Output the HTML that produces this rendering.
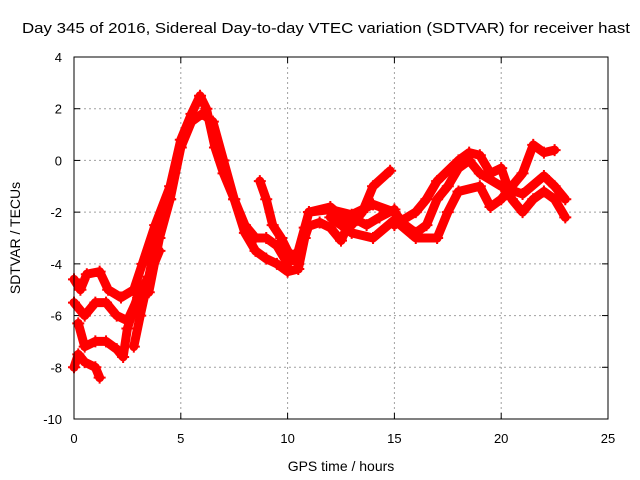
<!DOCTYPE html>
<html><head><meta charset="utf-8"><style>
body{margin:0;background:#fff;}
svg{display:block;font-family:"Liberation Sans",sans-serif;}
</style></head><body>
<svg id="chart" width="640" height="480" viewBox="0 0 640 480">
<text x="22" y="33" font-size="15" textLength="608" lengthAdjust="spacingAndGlyphs">Day 345 of 2016, Sidereal Day-to-day VTEC variation (SDTVAR) for receiver hast</text>
<text transform="translate(20,238) rotate(-90)" font-size="14" text-anchor="middle">SDTVAR / TECUs</text>
<text x="341" y="471" font-size="14" text-anchor="middle">GPS time / hours</text>
<g id="grid"></g>
<g id="ticks"></g>
<g id="series"></g>
<rect x="74" y="57" width="534" height="362" fill="none" stroke="#000" stroke-width="1"/>
</svg>
<script>
const xTicks=[0,5,10,15,20,25];
const yTicks=[4,2,0,-2,-4,-6,-8,-10];
const track1=[[0,-4.6],[0.3,-5],[0.6,-4.4],[1.2,-4.3],[1.6,-5],[2.2,-5.3],[2.8,-5],[3.2,-4],[3.8,-2.5],[4.5,-1],[5,0.8],[5.5,1.8],[5.9,2.5],[6.2,2],[6.6,0.5],[7,-0.5],[7.5,-1.5],[8,-2.5],[8.5,-3],[9,-3],[9.5,-3.3],[10,-4],[10.5,-3.5],[11,-2],[12,-1.9],[13,-2.1],[14,-1.7],[15,-2],[15.5,-2.5],[16,-2.8],[16.5,-2.5],[17,-1.5],[17.5,-1],[18,-0.3],[18.5,0],[19,-0.5],[20,-1],[21,-1.3],[22,-0.6],[22.5,-1],[23,-1.5]];
const track2=[[0,-5.5],[0.5,-6],[1,-5.5],[1.5,-5.5],[2,-6],[2.5,-6.2],[3,-5.3],[3.5,-5.1],[4,-3],[4.5,-1.5],[5,0.5],[5.5,1.5],[6,1.8],[6.5,1.5],[7,0],[7.5,-1.5],[8,-2.8],[8.5,-3.5],[9,-3.8],[9.5,-4],[10,-4.3],[10.5,-4.2],[10.8,-3],[11,-2.5]];
const track3=[[0.2,-6.3],[0.5,-7.2],[1,-7],[1.5,-7],[2,-7.3],[2.3,-7.6],[2.5,-6.5],[3,-5.2],[3.5,-4.5],[4,-3.5]];
const track4=[[2.8,-7.2],[3.1,-6],[3.5,-4.5],[4,-2.5],[4.5,-1.5]];
const track5=[[0,-8],[0.2,-7.5],[0.5,-7.8],[1,-8],[1.2,-8.4]];
const track6=[[8.7,-0.8],[9,-1.5],[9.3,-2.5],[9.7,-3],[10,-3.5],[10.5,-4]];
const track7=[[11,-2],[12,-1.8],[13,-2.5],[13.5,-2],[14,-1],[14.8,-0.4]];
const track8=[[15,-2.5],[16,-2],[16.5,-1.5],[17,-0.8],[18,0],[18.5,0.3],[19,0.2],[19.5,-0.5],[20,-0.3],[20.5,-1.5],[21,-2],[21.5,-1.5],[22,-1.2],[22.5,-1.5],[23,-2.2]];
const track9=[[12,-2.2],[13,-2.8],[14,-3],[15,-2.3],[16,-3],[17,-3],[17.5,-2],[18,-1.2],[19,-1],[19.5,-1.8],[20,-1.5],[21,-0.5],[21.5,0.6],[22,0.3],[22.5,0.4]];
const track10=[[10.8,-2.6],[11.5,-2.4],[12,-2.6],[12.5,-3.1],[13,-2.2],[13.7,-2.5],[14.3,-2.2],[15,-1.9]];
const tracks=[track1,track2,track3,track4,track5,track6,track7,track8,track9,track10];

const X0=74,X1=608,Y0=57,Y1=419;
const xs=t=>X0+(t-0)/(25-0)*(X1-X0);
const ys=v=>Y0+(4-v)/(4-(-10))*(Y1-Y0);
const NS='http://www.w3.org/2000/svg';
const grid=document.getElementById('grid'),ticks=document.getElementById('ticks'),series=document.getElementById('series');
function mk(tag,at){const e=document.createElementNS(NS,tag);for(const k in at)e.setAttribute(k,at[k]);return e;}
xTicks.forEach(t=>{
  const x=xs(t);
  if(t>0&&t<25){const g=mk('line',{x1:x,x2:x,y1:Y0,y2:Y1,stroke:'#a0a0a0','stroke-dasharray':'2,3'});
  
  grid.appendChild(g);}
  const l=mk('line',{x1:x,x2:x,y1:Y1,y2:Y1-6,stroke:'#000'});
  
  ticks.appendChild(l);
  const l2=mk('line',{x1:x,x2:x,y1:Y0,y2:Y0+6,stroke:'#000'});
  
  ticks.appendChild(l2);
  const tx=mk('text',{x:x,y:443,'font-size':13,'text-anchor':'middle'});tx.textContent=t;
  
  ticks.appendChild(tx);
});
yTicks.forEach(v=>{
  const y=ys(v);
  if(v<4&&v>-10){const g=mk('line',{x1:X0,x2:X1,y1:y,y2:y,stroke:'#a0a0a0','stroke-dasharray':'2,3'});
  
  grid.appendChild(g);}
  const l=mk('line',{x1:X0,x2:X0+6,y1:y,y2:y,stroke:'#000'});
  
  ticks.appendChild(l);
  const l2=mk('line',{x1:X1,x2:X1-6,y1:y,y2:y,stroke:'#000'});
  
  ticks.appendChild(l2);
  const tx=mk('text',{x:62,y:y+5,'font-size':13,'text-anchor':'end'});tx.textContent=v;
  
  ticks.appendChild(tx);
});
tracks.forEach((tr,i)=>{
  const p=mk('polyline',{points:tr.map(d=>xs(d[0])+','+ys(d[1])).join(' '),fill:'none',stroke:'#ff0000','stroke-width':9,'stroke-linejoin':'round','stroke-linecap':'round'});
  
  
  series.appendChild(p);
  tr.forEach(d=>{
    const m=mk('path',{d:`M${xs(d[0])-6},${ys(d[1])}h12M${xs(d[0])},${ys(d[1])-6}v12`,stroke:'#ff0000','stroke-width':2});
    
    
    series.appendChild(m);
  });
});
</script>
</body></html>
